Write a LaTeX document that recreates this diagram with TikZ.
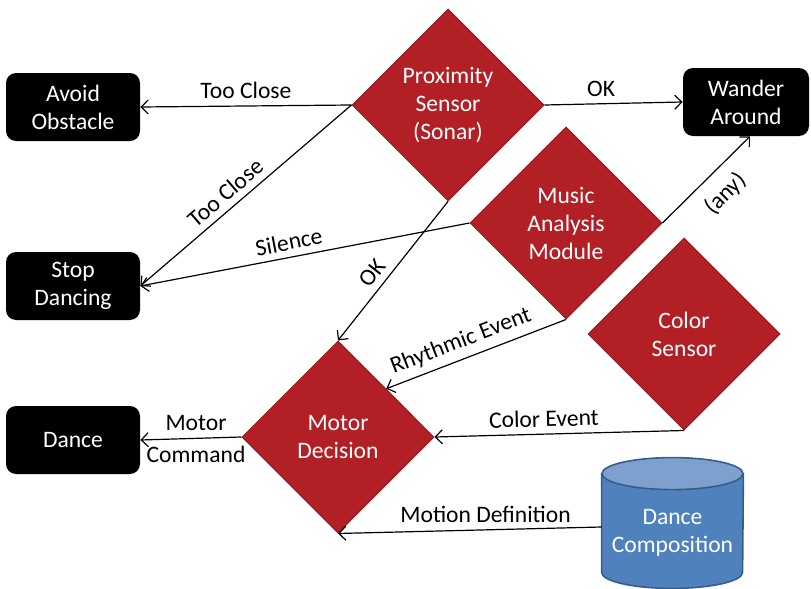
\documentclass[tikz,border=0pt]{standalone}
\usepackage{fontspec}
\setmainfont{Carlito}
\usetikzlibrary{shapes.geometric, arrows.meta}
\definecolor{dred}{RGB}{178,32,38}
\definecolor{dredline}{RGB}{150,26,32}
\definecolor{cylblue}{RGB}{79,129,189}
\definecolor{cyltop}{RGB}{126,160,206}
\definecolor{cylline}{RGB}{56,93,138}
\begin{document}
\begin{tikzpicture}[x=0.5pt,y=-0.5pt,
  font=\fontsize{11.8}{14}\selectfont,
  box/.style={rectangle, rounded corners=5pt, fill=black, text=white,
    minimum width=67pt, minimum height=34pt, align=center, inner sep=0pt},
  dia/.style={diamond, aspect=1, fill=dred, draw=dredline, line width=0.5pt,
    text=white, minimum width=96pt, minimum height=96pt, inner sep=0pt, align=center},
  conn/.style={-{Straight Barb[length=3.5pt,width=7pt]}, line width=0.6pt},
  lab/.style={text=black}
]
\useasboundingbox (0,0) rectangle (811,589);

% boxes
\node[box] (avoid) at (73,107) {Avoid\\Obstacle};
\node[box] (stop) at (73,286) {Stop\\Dancing};
\node[box] (dance) at (73,440) {Dance};
\node[box, minimum width=63pt] (wander) at (746,102) {Wander\\Around};

% diamonds
\node[dia] (prox) at (448,105) {Proximity\\Sensor\\(Sonar)};
\node[dia] (music) at (566,223) {Music\\Analysis\\Module};
\node[dia] (color) at (684,334) {Color\\Sensor};
\node[dia] (motor) at (338,437) {Motor\\Decision};

% cylinder
\node[rectangle, minimum width=70.5pt, minimum height=65pt, inner sep=0pt] (comp) at (672.5,523) {};
\path[fill=cylblue, draw=cylline, line width=0.8pt]
  ([yshift=-8pt]comp.north west) -- ([yshift=8pt]comp.south west)
  arc[start angle=180, end angle=360, x radius=35.25pt, y radius=8pt]
  -- ([yshift=-8pt]comp.north east) -- cycle;
\path[fill=cyltop, draw=cylline, line width=0.8pt]
  ([yshift=-8pt]comp.north) ellipse[x radius=35.25pt, y radius=8pt];
\node[text=white, align=center, inner sep=0pt] (comptext) at (672.5,533) {Dance\\Composition};

% connectors
\draw[conn] (prox.west) -- (avoid.east)
  node[lab, midway, above] {Too Close};
\draw[conn] (prox.west) -- (stop.east)
  node[lab, pos=0.55, sloped, above] {Too Close};
\draw[conn] (prox.east) -- (wander.west)
  node[lab, pos=0.41, above] {OK};
\draw[conn] (prox.south) -- (motor.north)
  node[lab, pos=0.58, sloped, above] {OK};
\draw[conn] (music.west) -- (stop.east)
  node[lab, pos=0.54, sloped, above] {Silence};
\draw[conn] (music.east) -- ([xshift=2pt]wander.south)
  node[lab, pos=0.53, sloped, below=3pt] {(any)};
\draw[conn] (music.south) -- (motor.north east)
  node[lab, pos=0.55, sloped, above] {Rhythmic Event};
\draw[conn] (color.south) -- (motor.east)
  node[lab, pos=0.56, sloped, above] {Color Event};
\draw[conn] ([yshift=-2pt]comp.west) -- (motor.south)
  node[lab, pos=0.44, above] {Motion Definition};
\draw[conn] (motor.west) -- (dance.east)
  node[lab, pos=0.45, above] {Motor}
  node[lab, pos=0.45, below] {Command};
\end{tikzpicture}
\end{document}
